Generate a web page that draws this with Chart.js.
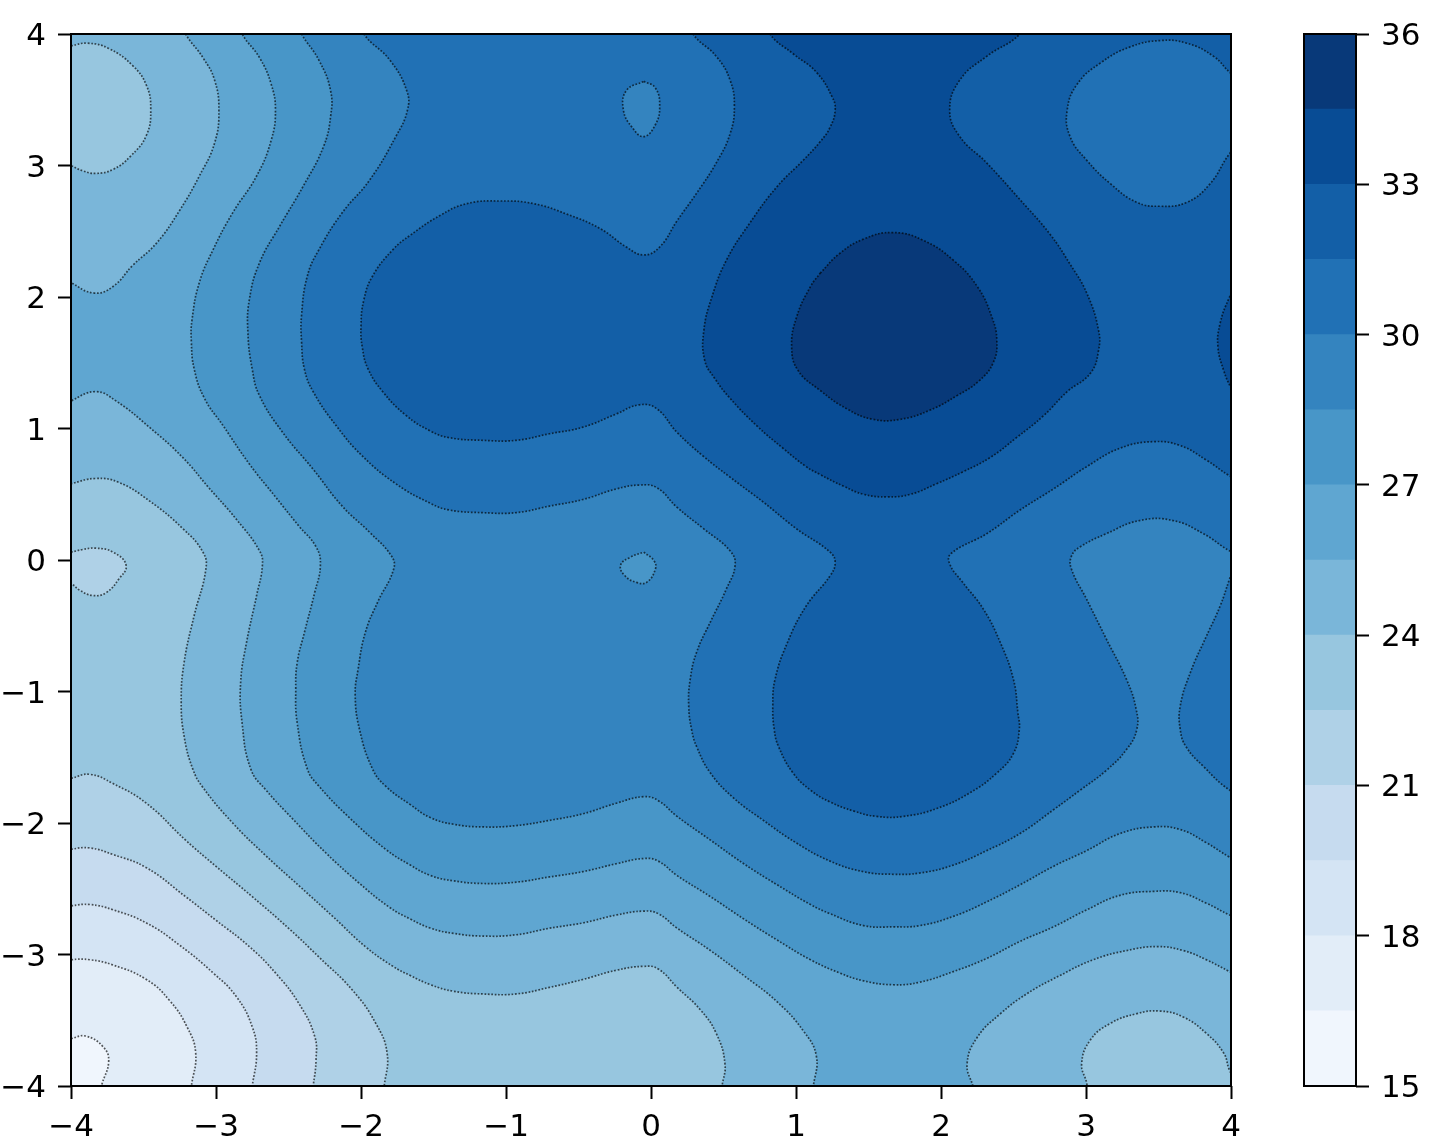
<!DOCTYPE html>
<html>
<head>
<meta charset="utf-8">
<title>Contour</title>
<script src="https://cdn.jsdelivr.net/npm/chart.js@4/dist/chart.umd.min.js"></script>
<style>
    body { margin: 0; background: #fff; }
    canvas { position: absolute; top: 0; filter: blur(0.6px); }
    #contour { left: 0; }
    #colorbar { left: 1290px; }
</style>
</head>
<body>
<canvas id="contour" width="1290" height="1145"></canvas>
<canvas id="colorbar" width="145" height="1145"></canvas>
<script>
// colour levels of the bar, one band between each pair
const levels = [15, 16.5, 18, 19.5, 21, 22.5, 24, 25.5, 27, 28.5, 30, 31.5, 33, 34.5, 36];
const bandColors = ["#f0f6fd", "#e2edf8", "#d4e4f4", "#c6dbef", "#afd1e7", "#97c6df", "#7ab6d9",
    "#5fa6d1", "#4896c8", "#3484bf", "#2171b5", "#135fa7", "#084c95", "#083979"];

// contours, [x, y]. points past +-4 only close the shape outside the frame
const wholeSquare = [[-4.3, -4.3], [4.3, -4.3], [4.3, 4.3], [-4.3, 4.3]];

const below24TopLeft = [[-4.3, 3.85], [-4, 3.91], [-3.885, 3.93], [-3.74, 3.89], [-3.575, 3.76], [-3.48, 3.61], [-3.45, 3.43],
    [-3.48, 3.23], [-3.59, 3.07], [-3.71, 2.97], [-3.83, 2.94], [-3.92, 2.96], [-4, 3], [-4.3, 3.15]];
const below24Main = [[-4.3, 0.5], [-4, 0.58], [-3.83, 0.62], [-3.67, 0.59], [-3.46, 0.45], [-3.23, 0.24], [-3.09, 0.06], [-3.07, -0.07],
    [-3.15, -0.42], [-3.22, -0.78], [-3.24, -1.08], [-3.22, -1.34], [-3.16, -1.59], [-3.09, -1.73], [-2.885, -2], [-2.655, -2.25],
    [-2.425, -2.48], [-2.195, -2.71], [-1.97, -2.94], [-1.78, -3.09], [-1.66, -3.16], [-1.52, -3.23], [-1.36, -3.28], [-1.16, -3.3],
    [-0.93, -3.3], [-0.7, -3.25], [-0.47, -3.19], [-0.24, -3.12], [-0.05, -3.09], [0.05, -3.11], [0.18, -3.25], [0.34, -3.42],
    [0.45, -3.6], [0.51, -3.83], [0.49, -4], [0.45, -4.3], [-4.3, -4.3]];
const below24BottomRight = [[3.05, -4.3], [3.005, -3.98], [2.97, -3.83], [3.03, -3.65], [3.166, -3.525], [3.35, -3.45], [3.51, -3.43],
    [3.67, -3.475], [3.83, -3.6], [3.95, -3.75], [3.99, -3.88], [4.1, -4.1], [4.3, -4.3]];
const below225Left = [[-4.3, 0], [-4, 0.06], [-3.92, 0.08], [-3.83, 0.09], [-3.71, 0.06], [-3.62, -0.04], [-3.67, -0.145],
    [-3.76, -0.25], [-3.85, -0.27], [-3.94, -0.23], [-4, -0.18], [-4.3, -0.05]];
const below225 = [[-4.3, -1.72], [-4, -1.66], [-3.87, -1.63], [-3.71, -1.7], [-3.48, -1.85], [-3.21, -2.13], [-3, -2.33], [-2.75, -2.56],
    [-2.49, -2.81], [-2.29, -3.02], [-2.06, -3.27], [-1.9, -3.52], [-1.82, -3.75], [-1.84, -4], [-1.88, -4.3], [-4.3, -4.3]];
const below21 = [[-4.3, -2.26], [-4, -2.2], [-3.87, -2.19], [-3.71, -2.24], [-3.48, -2.34], [-3.21, -2.56], [-3, -2.74], [-2.77, -2.94],
    [-2.59, -3.14], [-2.43, -3.37], [-2.32, -3.62], [-2.31, -3.8], [-2.33, -4], [-2.37, -4.3], [-4.3, -4.3]];
const below195 = [[-4.3, -2.68], [-4, -2.63], [-3.87, -2.62], [-3.71, -2.66], [-3.48, -2.76], [-3.25, -2.93], [-3.02, -3.14], [-2.86, -3.32],
    [-2.75, -3.55], [-2.72, -3.75], [-2.75, -4], [-2.79, -4.3], [-4.3, -4.3]];
const below18 = [[-4.3, -3.09], [-4, -3.04], [-3.87, -3.04], [-3.71, -3.08], [-3.48, -3.19], [-3.32, -3.35], [-3.2, -3.55], [-3.14, -3.75],
    [-3.17, -4], [-3.21, -4.3], [-4.3, -4.3]];
const below165 = [[-4.3, -3.7], [-4, -3.64], [-3.9, -3.62], [-3.78, -3.7], [-3.74, -3.81], [-3.79, -4], [-3.85, -4.3], [-4.3, -4.3]];

const above255 = [[-3.35, 4.3], [-3.21, 4], [-3.09, 3.82], [-3.01, 3.65], [-2.98, 3.42], [-3.01, 3.17], [-3.115, 2.92], [-3.25, 2.66],
    [-3.41, 2.41], [-3.575, 2.24], [-3.71, 2.08], [-3.84, 2.03], [-4, 2.11], [-4.3, 2.3], [-4.3, 1.05], [-4, 1.21], [-3.83, 1.28],
    [-3.69, 1.21], [-3.46, 1.01], [-3.23, 0.78], [-3.05, 0.55], [-2.86, 0.31], [-2.7, 0.07], [-2.68, -0.04], [-2.72, -0.27], [-2.79, -0.63],
    [-2.83, -0.93], [-2.82, -1.24], [-2.76, -1.59], [-2.655, -1.75], [-2.47, -1.97], [-2.24, -2.23], [-2.01, -2.46], [-1.805, -2.64],
    [-1.66, -2.73], [-1.52, -2.8], [-1.36, -2.84], [-1.16, -2.86], [-0.93, -2.85], [-0.7, -2.8], [-0.47, -2.76], [-0.24, -2.7], [-0.05, -2.67],
    [0.05, -2.69], [0.18, -2.8], [0.41, -2.97], [0.64, -3.16], [0.87, -3.36], [1.05, -3.58], [1.14, -3.77], [1.12, -4], [1.08, -4.3],
    [2.3, -4.3], [2.22, -4], [2.18, -3.83], [2.25, -3.63], [2.41, -3.45], [2.59, -3.3], [2.82, -3.16], [3.05, -3.04], [3.28, -2.97],
    [3.49, -2.94], [3.67, -2.97], [3.83, -3.04], [3.99, -3.13], [4.3, -3.3], [4.3, 4.3]];
const above27 = [[-2.95, 4.3], [-2.82, 4], [-2.7, 3.82], [-2.62, 3.62], [-2.59, 3.42], [-2.62, 3.19], [-2.72, 2.92], [-2.885, 2.64],
    [-3.02, 2.36], [-3.115, 2.11], [-3.165, 1.83], [-3.17, 1.66], [-3.15, 1.45], [-3.08, 1.23], [-2.95, 1.02], [-2.77, 0.73], [-2.59, 0.48],
    [-2.43, 0.26], [-2.31, 0.1], [-2.28, -0.04], [-2.32, -0.25], [-2.39, -0.55], [-2.44, -0.78], [-2.45, -0.98], [-2.44, -1.24], [-2.37, -1.59],
    [-2.29, -1.72], [-2.08, -1.96], [-1.83, -2.2], [-1.66, -2.32], [-1.52, -2.4], [-1.36, -2.44], [-1.16, -2.46], [-0.93, -2.45], [-0.7, -2.41],
    [-0.47, -2.37], [-0.24, -2.31], [-0.05, -2.27], [0.05, -2.29], [0.18, -2.4], [0.41, -2.56], [0.64, -2.73], [0.87, -2.89], [1.1, -3.04],
    [1.3, -3.14], [1.465, -3.2], [1.67, -3.23], [1.856, -3.21], [2.085, -3.13], [2.315, -3.03], [2.545, -2.9], [2.775, -2.79], [3.005, -2.66],
    [3.235, -2.55], [3.465, -2.52], [3.65, -2.53], [3.83, -2.61], [3.99, -2.7], [4.3, -2.85], [4.3, 4.3]];
const above285 = [[-2.55, 4.3], [-2.41, 4], [-2.29, 3.8], [-2.21, 3.57], [-2.21, 3.37], [-2.26, 3.14], [-2.4, 2.84], [-2.56, 2.54], [-2.7, 2.26],
    [-2.77, 1.98], [-2.78, 1.73], [-2.75, 1.45], [-2.7, 1.25], [-2.54, 0.97], [-2.33, 0.69], [-2.13, 0.41], [-1.94, 0.21], [-1.79, 0.03],
    [-1.775, -0.07], [-1.885, -0.32], [-1.97, -0.55], [-2.02, -0.83], [-2.04, -1.03], [-2.01, -1.29], [-1.92, -1.59], [-1.83, -1.72],
    [-1.66, -1.86], [-1.52, -1.96], [-1.36, -2.01], [-1.16, -2.03], [-0.93, -2.02], [-0.7, -1.98], [-0.47, -1.93], [-0.24, -1.85], [-0.05, -1.8],
    [0.05, -1.83], [0.18, -1.95], [0.41, -2.13], [0.64, -2.31], [0.87, -2.47], [1.1, -2.62], [1.235, -2.69], [1.465, -2.78], [1.67, -2.79],
    [1.856, -2.78], [2.085, -2.71], [2.315, -2.6], [2.545, -2.47], [2.775, -2.33], [3.005, -2.21], [3.235, -2.08], [3.465, -2.03], [3.65, -2.05],
    [3.83, -2.15], [3.99, -2.26], [4.3, -2.45], [4.3, 4.3]];
const hole285 = [[-0.05, 0.06], [0.02, -0.005], [0.03, -0.07], [-0.03, -0.17], [-0.1, -0.17], [-0.18, -0.12], [-0.21, -0.04], [-0.145, 0.02], [-0.05, 0.06]];
const above30 = [[-2.12, 4.3], [-1.98, 4], [-1.8, 3.8], [-1.685, 3.57], [-1.68, 3.42], [-1.76, 3.22], [-1.94, 2.89], [-2.13, 2.64], [-2.29, 2.36],
    [-2.37, 2.16], [-2.41, 1.86], [-2.41, 1.66], [-2.39, 1.45], [-2.33, 1.28], [-2.17, 1.02], [-1.99, 0.79], [-1.76, 0.58], [-1.52, 0.43],
    [-1.39, 0.38], [-1.16, 0.36], [-0.93, 0.36], [-0.7, 0.41], [-0.47, 0.46], [-0.24, 0.54], [-0.08, 0.57], [0.04, 0.55], [0.18, 0.4], [0.36, 0.24],
    [0.545, 0.07], [0.58, -0.04], [0.52, -0.22], [0.41, -0.47], [0.315, -0.7], [0.27, -0.91], [0.26, -1.11], [0.28, -1.29], [0.315, -1.42],
    [0.41, -1.62], [0.57, -1.81], [0.775, -1.98], [1, -2.15], [1.235, -2.29], [1.465, -2.37], [1.67, -2.39], [1.856, -2.38],
    [2.085, -2.32], [2.315, -2.21], [2.545, -2.08], [2.775, -1.9], [2.96, -1.75], [3.14, -1.6], [3.28, -1.44], [3.35, -1.29], [3.345, -1.13],
    [3.28, -0.91], [3.14, -0.6], [3.005, -0.3], [2.9, -0.07], [2.9, 0.03], [2.96, 0.1], [3.14, 0.2], [3.37, 0.3], [3.6, 0.3], [3.81, 0.2],
    [3.99, 0.07], [4.3, -0.1], [4.3, 4.3]];
const above30Right = [[4.2, 0.5], [3.99, -0.145], [3.925, -0.35], [3.83, -0.58], [3.72, -0.855], [3.65, -1.11], [3.65, -1.29], [3.69, -1.42],
    [3.81, -1.57], [3.99, -1.75], [4.3, -1.95]];
const hole30 = [[-0.05, 3.64], [0.03, 3.59], [0.06, 3.45], [0.03, 3.31], [-0.05, 3.22], [-0.13, 3.29], [-0.19, 3.42], [-0.17, 3.57], [-0.05, 3.64]];
const above315 = [[0.15, 4.3], [0.29, 4], [0.45, 3.83], [0.545, 3.65], [0.575, 3.45], [0.545, 3.24], [0.45, 3.02], [0.315, 2.79], [0.18, 2.58],
    [0.06, 2.38], [-0.05, 2.32], [-0.17, 2.38], [-0.35, 2.52], [-0.58, 2.63], [-0.81, 2.71], [-1.04, 2.73], [-1.27, 2.71], [-1.455, 2.62],
    [-1.66, 2.47], [-1.78, 2.36], [-1.92, 2.16], [-1.98, 1.98], [-2, 1.78], [-1.99, 1.61], [-1.95, 1.45], [-1.85, 1.28], [-1.69, 1.1], [-1.52, 0.98],
    [-1.39, 0.93], [-1.16, 0.91], [-0.93, 0.91], [-0.7, 0.96], [-0.47, 1.01], [-0.24, 1.11], [-0.08, 1.18], [0.04, 1.15], [0.18, 0.97], [0.36, 0.79],
    [0.545, 0.63], [0.775, 0.44], [1, 0.24], [1.235, 0.06], [1.27, -0.02], [1.235, -0.12], [1.07, -0.35], [0.94, -0.63], [0.855, -0.91], [0.84, -1.11],
    [0.85, -1.29], [0.88, -1.42], [0.98, -1.62], [1.1, -1.75], [1.235, -1.84], [1.4, -1.91], [1.557, -1.95], [1.74, -1.95], [1.97, -1.89], [2.2, -1.77],
    [2.385, -1.62], [2.5, -1.47], [2.54, -1.29], [2.53, -1.16], [2.5, -0.91], [2.41, -0.63], [2.29, -0.37], [2.15, -0.17], [2.06, -0.03], [2.07, 0.05],
    [2.315, 0.2], [2.545, 0.38], [2.775, 0.54], [3.005, 0.71], [3.235, 0.85], [3.465, 0.9], [3.65, 0.87], [3.83, 0.76], [3.99, 0.64], [4.3, 0.45], [4.3, 4.3]];
const hole315 = [[4.3, 3.45], [4, 3.7], [3.88, 3.83], [3.695, 3.93], [3.51, 3.95], [3.3, 3.9], [3.1, 3.78], [2.94, 3.62], [2.87, 3.42], [2.89, 3.22],
    [3.005, 3.04], [3.17, 2.86], [3.35, 2.72], [3.51, 2.69], [3.695, 2.72], [3.855, 2.86], [3.99, 3.09], [4.3, 3.5]];
const above33 = [[0.68, 4.3], [0.82, 4], [0.98, 3.85], [1.14, 3.71], [1.25, 3.52], [1.27, 3.42], [1.235, 3.29], [1.166, 3.18], [1.05, 3.04], [0.87, 2.84], [0.68, 2.56],
    [0.52, 2.28], [0.42, 2], [0.365, 1.75], [0.37, 1.52], [0.44, 1.38], [0.545, 1.23], [0.73, 1.02], [0.91, 0.85], [1.07, 0.71], [1.166, 0.65],
    [1.33, 0.56], [1.465, 0.5], [1.63, 0.48], [1.79, 0.5], [1.97, 0.58], [2.15, 0.67], [2.34, 0.78], [2.52, 0.93], [2.71, 1.1], [2.87, 1.28],
    [3.03, 1.42], [3.086, 1.59], [3.086, 1.75], [3.005, 2.03], [2.89, 2.25], [2.75, 2.48], [2.545, 2.74], [2.315, 3.02], [2.13, 3.22], [2.06, 3.42],
    [2.13, 3.65], [2.315, 3.83], [2.545, 4], [2.75, 4.3]];
const above33Right = [[4.2, 2.5], [3.99, 2], [3.925, 1.8], [3.91, 1.62], [3.95, 1.44], [4, 1.31], [4.2, 0.9]];
const above345 = [[1.166, 2.18], [1.3, 2.33], [1.465, 2.44], [1.67, 2.49], [1.88, 2.43], [2.085, 2.28], [2.25, 2.08], [2.35, 1.85], [2.385, 1.67], [2.36, 1.5],
    [2.26, 1.36], [2.11, 1.25], [1.925, 1.14], [1.72, 1.07], [1.53, 1.07], [1.35, 1.15], [1.166, 1.29], [1.015, 1.44], [0.97, 1.62], [1.005, 1.85],
    [1.1, 2.08], [1.166, 2.18]];

// painted in this order, each one with the band it starts at
const shapes = [
    [wholeSquare, 24],
    [below24TopLeft, 22.5], [below24Main, 22.5], [below24BottomRight, 22.5],
    [below225Left, 21], [below225, 21], [below21, 19.5], [below195, 18], [below18, 16.5], [below165, 15],
    [above255, 25.5], [above27, 27], [above285, 28.5], [hole285, 27],
    [above30, 30], [above30Right, 30], [hole30, 28.5],
    [above315, 31.5], [hole315, 30],
    [above33, 33], [above33Right, 33], [above345, 34.5]
];

const tickFont = { family: "DejaVu Sans", size: 31 };
const tickColor = "#000";

function formatTick(value) {
    return String(value).replace("-", "\u2212");
}

// line element gives the smooth path, we only fill it
const fillContours = {
    id: "fillContours",
    beforeDatasetDraw(chart, args) {
        const line = args.meta.dataset;
        const area = chart.chartArea;
        const ctx = chart.ctx;
        ctx.save();
        ctx.beginPath();
        ctx.rect(area.left, area.top, area.right - area.left, area.bottom - area.top);
        ctx.clip();
        line.updateControlPoints(area, "x");
        ctx.beginPath();
        line.path(ctx);
        ctx.closePath();
        ctx.fillStyle = chart.data.datasets[args.index].backgroundColor;
        ctx.fill();
        ctx.restore();
    }
};

const frame = {
    id: "frame",
    afterDatasetsDraw(chart) {
        const area = chart.chartArea;
        chart.ctx.save();
        chart.ctx.strokeStyle = "#000";
        chart.ctx.lineWidth = 2;
        chart.ctx.strokeRect(area.left, area.top, area.right - area.left, area.bottom - area.top);
        chart.ctx.restore();
    }
};

new Chart(document.getElementById("contour"), {
    type: "scatter",
    data: {
        datasets: shapes.map(([points, level], i) => ({
            data: points.map(([x, y]) => ({ x, y })),
            showLine: true,
            backgroundColor: bandColors[levels.indexOf(level)],
            borderColor: i === 0 ? "transparent" : "rgba(0, 0, 0, 0.65)",
            borderWidth: 1.7,
            borderDash: [1.7, 1.7],
            tension: 0.45,
            capBezierPoints: false,
            pointRadius: 0,
            order: -i
        }))
    },
    options: {
        responsive: false,
        animation: false,
        layout: { autoPadding: false, padding: { top: 34, right: 59, bottom: 0, left: 0 } },
        plugins: { legend: { display: false }, tooltip: { enabled: false } },
        scales: {
            x: {
                min: -4,
                max: 4,
                afterFit(scale) { scale.height = 59; },
                border: { display: false },
                grid: { drawOnChartArea: false, tickLength: 13, tickWidth: 2, tickColor },
                ticks: { stepSize: 1, maxRotation: 0, autoSkip: false, padding: 10, color: tickColor, font: tickFont, callback: formatTick }
            },
            y: {
                min: -4,
                max: 4,
                afterFit(scale) { scale.width = 71; },
                border: { display: false },
                grid: { drawOnChartArea: false, tickLength: 13, tickWidth: 2, tickColor },
                ticks: { stepSize: 1, autoSkip: false, padding: 12, labelOffset: 3, color: tickColor, font: tickFont, callback: formatTick }
            }
        }
    },
    plugins: [fillContours, frame]
});

new Chart(document.getElementById("colorbar"), {
    type: "bar",
    data: {
        labels: [""],
        datasets: bandColors.map((color, i) => ({
            data: [[levels[i], levels[i + 1]]],
            backgroundColor: color,
            grouped: false,
            barPercentage: 1,
            categoryPercentage: 1
        }))
    },
    options: {
        responsive: false,
        animation: false,
        layout: { autoPadding: false, padding: { top: 34, right: 0, bottom: 59, left: 14 } },
        plugins: { legend: { display: false }, tooltip: { enabled: false } },
        scales: {
            x: { display: false },
            y: {
                position: "right",
                min: 15,
                max: 36,
                afterFit(scale) { scale.width = 79; },
                border: { display: false },
                grid: { drawOnChartArea: false, tickLength: 13, tickWidth: 2, tickColor },
                ticks: { stepSize: 3, autoSkip: false, padding: 12, labelOffset: 3, color: tickColor, font: tickFont }
            }
        }
    },
    plugins: [frame]
});
</script>
</body>
</html>
